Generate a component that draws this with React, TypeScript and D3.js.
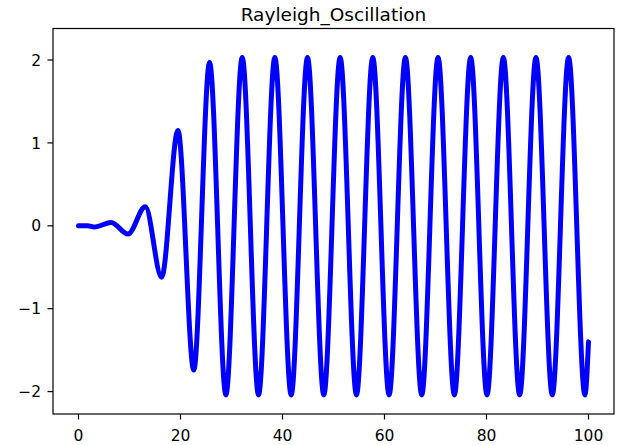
import React from 'react';
import * as d3 from 'd3';

// extrema of the trace (time, value)
const timePoints = [
  0, 1.8, 3.1, 6.4, 9.7, 13.1, 16.3, 19.5, 22.6, 25.7, 28.9, 32.1, 35.3, 38.5,
  41.7, 44.9, 48.1, 51.3, 54.5, 57.7, 60.9, 64.1, 67.3, 70.5, 73.7, 76.9, 80.1,
  83.3, 86.5, 89.7, 92.9, 96.1, 99.3, 100,
];
const xValues = [
  0, 0, -0.015, 0.04, -0.1, 0.23, -0.62, 1.15, -1.74, 1.97, -2.04, 2.03, -2.04,
  2.03, -2.04, 2.03, -2.04, 2.03, -2.04, 2.03, -2.04, 2.03, -2.04, 2.03, -2.04,
  2.03, -2.04, 2.03, -2.04, 2.03, -2.04, 2.03, -2.04, -1.4,
];
const xTicks = [0, 20, 40, 60, 80, 100];
const yTicks = [-2, -1, 0, 1, 2];
const title = 'Rayleigh_Oscillation';

const width = 624;
const height = 445;
const margin = { top: 28.5, right: 10, bottom: 31, left: 53 };
const fontFamily = 'DejaVu Sans, sans-serif';

const fmt = (v: number) => (v < 0 ? '\u2212' + Math.abs(v) : String(v));

const App = () => {
  const xScale = d3
    .scaleLinear()
    .domain([-5, 105])
    .range([margin.left, width - margin.right]);
  const yScale = d3
    .scaleLinear()
    .domain([-2.27, 2.38])
    .range([height - margin.bottom, margin.top]);

  const line = d3
    .line<number>()
    .x((d, i) => xScale(timePoints[i]))
    .y((d) => yScale(d))
    .curve(d3.curveMonotoneX);

  const x0 = margin.left;
  const x1 = width - margin.right;
  const y0 = margin.top;
  const y1 = height - margin.bottom;
  const tickLen = 5.5;

  return (
    <svg
      width={width}
      height={height}
      style={{ position: 'absolute', left: 0, top: 0, background: '#fff' }}
      fontFamily={fontFamily}
    >
      <rect x={0} y={0} width={width} height={height} fill="#fff" />
      <defs>
        <clipPath id="plot-area">
          <rect x={x0} y={y0} width={x1 - x0} height={y1 - y0} />
        </clipPath>
      </defs>

      <path
        d={line(xValues) || ''}
        fill="none"
        stroke="#0000ff"
        strokeWidth={5}
        strokeLinejoin="round"
        strokeLinecap="round"
        clipPath="url(#plot-area)"
      />

      {/* spines */}
      <rect x={x0} y={y0} width={x1 - x0} height={y1 - y0} fill="none" stroke="#000" strokeWidth={1.2} />

      {/* x axis */}
      {xTicks.map((t) => (
        <g key={'x' + t} transform={`translate(${xScale(t)},0)`}>
          <line y1={y1} y2={y1 + tickLen} stroke="#000" strokeWidth={1.2} />
          <text y={441} textAnchor="middle" fontSize={15.5} fill="#000">
            {fmt(t)}
          </text>
        </g>
      ))}

      {/* y axis */}
      {yTicks.map((t) => (
        <g key={'y' + t} transform={`translate(0,${yScale(t)})`}>
          <line x1={x0} x2={x0 - tickLen} stroke="#000" strokeWidth={1.2} />
          <text x={41} dy="0.36em" textAnchor="end" fontSize={15.5} fill="#000">
            {fmt(t)}
          </text>
        </g>
      ))}

      <text x={(x0 + x1) / 2} y={21} textAnchor="middle" fontSize={18.5} fill="#000">
        {title}
      </text>
    </svg>
  );
};

export default App;
